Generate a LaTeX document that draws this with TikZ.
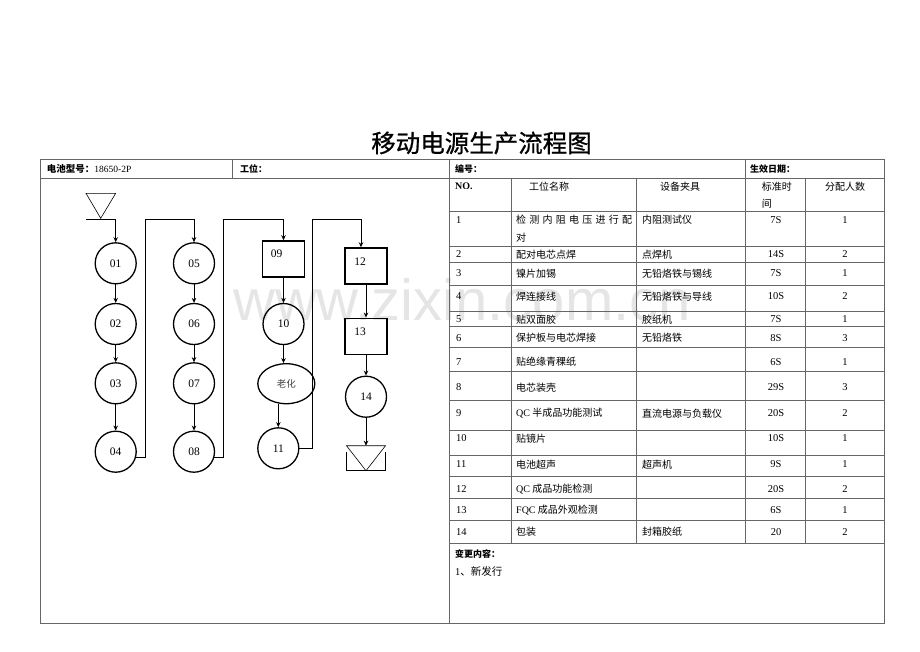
\documentclass[tikz,border=0pt]{standalone}
\usepackage{fontspec}
\setmainfont{Liberation Serif}
\newfontfamily\cjk{Noto Sans CJK SC}
\newfontfamily\cjktitle{Noto Sans CJK SC}[FakeBold=0.8]
\newfontfamily\wmfont{Liberation Sans}
\usetikzlibrary{arrows.meta,shapes.geometric}
\newcommand{\zh}[1]{{\cjk #1}}
\begin{document}
\begin{tikzpicture}[x=1pt,y=-1pt,>={Stealth[length=5pt,width=4.5pt]},
    font=\fontsize{10.5}{12}\selectfont,
    stn/.style={circle,draw,line width=1.3pt,minimum size=41pt,inner sep=0pt,font=\fontsize{11.5}{12}\selectfont},
    stbox/.style={rectangle,draw,line width=1.5pt,minimum width=42pt,minimum height=36pt,inner sep=0pt},
    boxlbl/.style={anchor=north west,inner sep=0pt,font=\fontsize{11.5}{12}\selectfont},
    flow/.style={->,line width=0.8pt},
    grid/.style={draw=black!60,line width=0.8pt},
    cell/.style={anchor=west,inner sep=0pt},
    zhcell/.style={cell,font=\cjk\fontsize{10}{10}\selectfont},
    mid/.style={inner sep=0pt},
    hd/.style={cell,font=\cjk\bfseries\fontsize{9}{9}\selectfont}]
  \useasboundingbox (0,0) rectangle (920,651);
  \def\ytop{219.3}
  % watermark
  \node[text=black!10,font=\wmfont\fontsize{58}{58}\selectfont] (wm) at (462,300) {www.zixin.com.cn};
  % title
  \node[font=\cjktitle\fontsize{24.5}{25}\selectfont] (title) at (481.5,143) {移动电源生产流程图};
  % frame and table grid
  \draw[grid] (40,159) rectangle (884,623);
  \draw[grid] (40,178) -- (884,178);
  \draw[grid] (232.7,159) -- (232.7,178);
  \draw[grid] (449,159) -- (449,623);
  \draw[grid] (745,159) -- (745,543.3);
  \foreach \x in {511,636,805}
    \draw[grid] (\x,178) -- (\x,543.3);
  \foreach \y in {211,246.5,262,285,311.7,326.7,347,371,400,430,455,476.7,498.3,520,543.3}
    \draw[grid] (449,\y) -- (884,\y);
  % header
  \node[cell,font=\fontsize{9.5}{10}\selectfont] (hbat) at (46.7,169) {{\cjk\bfseries 电池型号：}18650-2P};
  \node[hd] (hpos) at (240,169) {工位：};
  \node[hd] (hno) at (455,169) {编号：};
  \node[hd] (hdate) at (750,169) {生效日期：};
  \node[cell,font=\bfseries\fontsize{10}{10}\selectfont] (cno) at (455,186.5) {NO.};
  \node[zhcell] (cname) at (529,186.5) {工位名称};
  \node[zhcell] (ctool) at (660,186.5) {设备夹具};
  \node[zhcell] (ctime) at (761.7,186.5) {标准时};
  \node[zhcell] (ctime2) at (761.7,203.3) {间};
  \node[mid,font=\cjk\fontsize{10}{10}\selectfont] (cppl) at (845,186.5) {分配人数};
  % rows
  \node[cell] (n1) at (456,220) {1};
  \node[zhcell] (name1) at (516,220) {\hbox to 116pt{检\hfil 测\hfil 内\hfil 阻\hfil 电\hfil 压\hfil 进\hfil 行\hfil 配}};
  \node[zhcell] (name1b) at (516,238) {对};
  \node[zhcell] (tool1) at (642,220) {内阻测试仪};
  \node[mid] (t1) at (776,220) {7S};
  \node[mid] (p1) at (845,220) {1};
  \foreach \n/\y/\name/\tool/\t/\p in {
      2/254.5/配对电芯点焊/点焊机/14S/2,
      3/273.5/镍片加锡/无铅烙铁与锡线/7S/1,
      4/296.5/焊连接线/无铅烙铁与导线/10S/2,
      5/319.5/贴双面胶/胶纸机/7S/1,
      6/338/保护板与电芯焊接/无铅烙铁/8S/3,
      7/362/贴绝缘青稞纸//6S/1,
      8/387.5/电芯装壳//29S/3,
      9/413.5/{{\rmfamily QC} 半成品功能测试}/直流电源与负载仪/20S/2,
      10/438.5/贴镜片//10S/1,
      11/464.5/电池超声/超声机/9S/1,
      12/489.5/{{\rmfamily QC} 成品功能检测}//20S/2,
      13/510.5/{{\rmfamily FQC} 成品外观检测}//6S/1,
      14/532/包装/封箱胶纸/20/2}{
    \node[cell] (n\n) at (456,\y) {\n};
    \node[zhcell] (name\n) at (516,\y) {\name};
    \node[zhcell] (tool\n) at (642,\y) {\tool};
    \node[mid] (t\n) at (776,\y) {\t};
    \node[mid] (p\n) at (845,\y) {\p};
  }
  \node[hd] (chg) at (455,554) {变更内容：};
  \node[cell] (chg1) at (455,571.5) {1\zh{、新发行}};
  % flow chart
  \draw[line width=0.6pt] (86,193.3) -- (115.7,193.3) -- (100.7,218.3) -- cycle;
  \coordinate (in) at (86,\ytop);
  \node[stn] (c01) at (115.7,263.3) {01};
  \node[stn] (c02) at (115.7,324) {02};
  \node[stn] (c03) at (115.7,383.3) {03};
  \node[stn] (c04) at (115.7,451.7) {04};
  \node[stn] (c05) at (194,263.3) {05};
  \node[stn] (c06) at (194,324) {06};
  \node[stn] (c07) at (194,383.3) {07};
  \node[stn] (c08) at (194,451.7) {08};
  \node[stbox,label={[boxlbl,xshift=9pt,yshift=-9pt]north west:09}] (b09) at (283.5,259) {};
  \node[stn] (c10) at (283.5,324) {10};
  \node[ellipse,draw,line width=1.3pt,minimum width=57pt,minimum height=40pt,inner sep=0pt,
        text=black!75,font=\cjk\fontsize{9.5}{10}\selectfont] (lh) at (286.3,383.7) {老化};
  \node[stn] (c11) at (278.3,448.3) {11};
  \node[stbox,label={[boxlbl,xshift=10pt,yshift=-10pt]north west:12}] (b12) at (366,266) {};
  \node[stbox,label={[boxlbl,xshift=10pt,yshift=-10.5pt]north west:13}] (b13) at (366,336.3) {};
  \node[stn] (c14) at (366,396.7) {14};
  \coordinate (out) at (366,445.7);
  \draw[flow] (in) -| (c01.north);
  \foreach \a/\b in {c01/c02,c02/c03,c03/c04,c05/c06,c06/c07,c07/c08,b09/c10,b12/b13,b13/c14}
    \draw[flow] (\a) -- (\b);
  \draw[flow] (c04.-15) -| (145,\ytop) -| (c05.north);
  \draw[flow] (c08.-15) -| (223.3,\ytop) -| (b09.north);
  \draw[flow] (c10) -- (c10 |- lh.north);
  \draw[flow] (c11 |- lh.south) -- (c11);
  \draw[flow] (c11.east) -| (312.7,\ytop) -| ([xshift=-5pt]b12.north);
  \draw[flow] (c14) -- (out);
  \draw[line width=0.6pt] (out) ++(-19.5,0) -- ++(39,0) -- (366,470.7) -- cycle;
  \draw[line width=0.6pt] (346,452) -- (346,470.7) -- (385,470.7) -- (385,452);
\end{tikzpicture}
\end{document}
